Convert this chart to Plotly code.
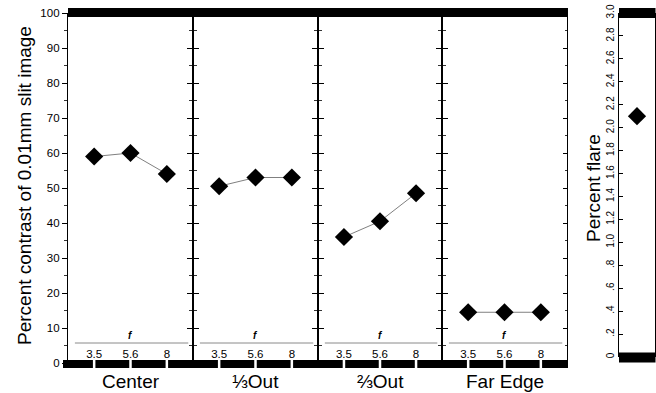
import plotly.graph_objects as go

# ---------------- data ----------------
fstops = ["3.5", "5.6", "8"]
positions = ["Center", "\u2153Out", "\u2154Out", "Far Edge"]
contrast_center = [59, 60, 54]
contrast_third = [50.5, 53, 53]
contrast_twothirds = [36, 40.5, 48.5]
contrast_far = [14.5, 14.5, 14.5]
contrast_series = [contrast_center, contrast_third, contrast_twothirds, contrast_far]
flare_cat = ["flare"]
flare_value = [2.1]
contrast_ticks = list(range(0, 101, 10))
flare_tickvals = [i / 5 for i in range(0, 16)]
flare_ticktext = ["0", ".2", ".4", ".6", ".8", "1.0", "1.2", "1.4", "1.6", "1.8",
                  "2.0", "2.2", "2.4", "2.6", "2.8", "3.0"]

# ---------------- layout helpers ----------------
W, H = 656, 393
FONT = "Liberation Sans, Arial, sans-serif"


def px(x):
    return x / W


def py(y):
    return 1 - y / H


panel_edges = [68, 193, 318, 442, 567]
main_ydom = [py(363), py(13)]
flare_xdom = [px(619), px(655)]
flare_ydom = [py(357), py(13)]
xrange_cat = [-0.72, 2.72]

fig = go.Figure()
layout = dict(
    width=W, height=H,
    margin=dict(l=0, r=0, t=0, b=0, pad=0, autoexpand=False),
    paper_bgcolor="white", plot_bgcolor="white",
    showlegend=False,
    font=dict(family=FONT, color="black"),
)
shapes = []
annotations = []

for k in range(4):
    sfx = "" if k == 0 else str(k + 1)
    xa = "x" + sfx
    ya = "y" + sfx
    fig.add_trace(go.Scatter(
        x=fstops, y=contrast_series[k], xaxis=xa, yaxis=ya,
        mode="lines+markers",
        line=dict(color="#808080", width=1),
        marker=dict(symbol="diamond", size=14, color="black"),
        cliponaxis=False,
    ))
    dom = [px(panel_edges[k]), px(panel_edges[k + 1])]
    layout["xaxis" + sfx] = dict(
        domain=dom, anchor="free", position=py(345), type="category",
        range=xrange_cat,
        showgrid=False, zeroline=False, showline=False, automargin=False,
        ticks="", tickfont=dict(size=11.5, color="black"),
    )
    yax = dict(
        domain=main_ydom, anchor=xa, range=[0, 100], automargin=False,
        showgrid=False, zeroline=False,
        showline=True, linecolor="black", linewidth=1.3,
        mirror=("ticks" if k < 3 else True), ticks="outside", ticklen=5, tickwidth=1.3,
        tickcolor="black", tickvals=contrast_ticks,
        minor=dict(dtick=5, ticks="outside", ticklen=3, tickcolor="#333", tickwidth=1),
        showticklabels=(k == 0), tickfont=dict(size=11.5, color="black"),
    )
    if k > 0:
        yax["matches"] = "y"
    layout["yaxis" + sfx] = yax

    # thin "f" guide line with label
    shapes.append(dict(type="line", xref=xa, yref="paper",
                       x0=-0.53, x1=2.59, y0=py(343), y1=py(343),
                       line=dict(color="#8a8a8a", width=1)))
    annotations.append(dict(text="<b><i>f</i></b>", xref="paper", yref="paper",
                            x=(dom[0] + dom[1]) / 2, y=py(335), showarrow=False,
                            xanchor="center", yanchor="middle",
                            font=dict(size=10, color="black")))
    # category label under the bar
    annotations.append(dict(text=positions[k], xref="paper", yref="paper",
                            x=(dom[0] + dom[1]) / 2, y=py(381), showarrow=False,
                            xanchor="center", yanchor="middle",
                            font=dict(size=19, color="black")))
    # white gaps in the bottom bar at each f-stop
    for i, _ in enumerate(fstops):
        shapes.append(dict(type="line", xref=xa, yref="paper", layer="above",
                           x0=i, x1=i, y0=py(368.5), y1=py(359.8),
                           line=dict(color="white", width=2.5)))

# overlay axis: inward-ticked right edge
fig.add_trace(go.Scatter(x=fstops, y=contrast_center, xaxis="x", yaxis="y7",
                         mode="markers", marker=dict(opacity=0),
                         hoverinfo="skip", showlegend=False))
layout["yaxis7"] = dict(overlaying="y", anchor="free", position=px(567), side="right",
                        range=[0, 100], automargin=False, showgrid=False, zeroline=False,
                        showline=False, ticks="inside", ticklen=4, tickwidth=1.2,
                        tickcolor="black", tickvals=contrast_ticks,
                        minor=dict(dtick=5, ticks="inside", ticklen=2, tickcolor="#333"),
                        showticklabels=False)

# thick top and bottom bars (frame decoration)
bars = [
    dict(type="line", xref="paper", yref="paper", layer="above",
         x0=px(68), x1=px(568), y0=py(12.5), y1=py(12.5),
         line=dict(color="black", width=9)),
    dict(type="line", xref="paper", yref="paper", layer="above",
         x0=px(63), x1=px(568), y0=py(364), y1=py(364),
         line=dict(color="black", width=8)),
    dict(type="line", xref="paper", yref="paper", layer="above",
         x0=px(619), x1=px(655.5), y0=py(13), y1=py(13),
         line=dict(color="black", width=10)),
    dict(type="line", xref="paper", yref="paper", layer="above",
         x0=px(619), x1=px(655.5), y0=py(357.5), y1=py(357.5),
         line=dict(color="black", width=10)),
]
shapes = bars + shapes

# flare panel
fig.add_trace(go.Scatter(
    x=flare_cat, y=flare_value, xaxis="x5", yaxis="y5", mode="markers",
    marker=dict(symbol="diamond", size=14, color="black"),
))
layout["xaxis5"] = dict(domain=flare_xdom, anchor="y5", type="category",
                        range=[-0.5, 0.5], showgrid=False, zeroline=False,
                        automargin=False,
                        showline=False, showticklabels=False, ticks="")
layout["yaxis5"] = dict(domain=flare_ydom, anchor="x5", range=[0, 3.0],
                        showgrid=False, zeroline=False, automargin=False,
                        showline=True, linecolor="black", linewidth=1.3, mirror=True,
                        ticks="inside", ticklen=4, tickcolor="black", tickwidth=1,
                        tickvals=flare_tickvals, ticktext=flare_ticktext,
                        tickangle=-90, tickfont=dict(size=10, color="black"))

annotations.append(dict(text="Percent contrast of 0.01mm slit image",
                        xref="paper", yref="paper", x=px(24), y=py(186),
                        xanchor="center", yanchor="middle",
                        showarrow=False, textangle=-90,
                        font=dict(size=19, color="black")))
annotations.append(dict(text="Percent flare", xref="paper", yref="paper",
                        x=px(593), y=py(188), showarrow=False, textangle=-90,
                        xanchor="center", yanchor="middle",
                        font=dict(size=19, color="black")))

layout["shapes"] = shapes
layout["annotations"] = annotations
fig.update_layout(**layout)
fig.write_html("out.html")
